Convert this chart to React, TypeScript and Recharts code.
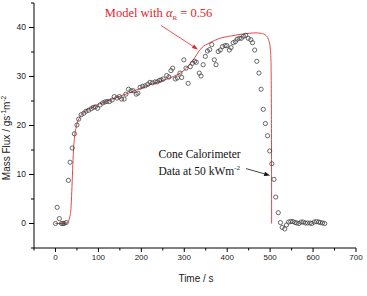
import {
  ComposedChart,
  Label,
  Line,
  ReferenceDot,
  ReferenceLine,
  Scatter,
  XAxis,
  YAxis,
} from "recharts";

// cone calorimeter measurements (time s, mass flux g/s/m2)
const TIME = [
  0, 4, 9, 14, 17, 20, 25, 30, 34, 39, 44, 50, 54, 60, 66, 71, 77, 83, 88, 93,
  98, 104, 110, 115, 120, 126, 132, 137, 143, 149, 154, 160, 164, 170, 176, 181,
  188, 192, 197, 203, 209, 215, 220, 226, 232, 237, 242, 246, 251, 259, 264, 269,
  273, 279, 284, 290, 294, 299, 304, 309, 314, 319, 324, 328, 335, 339, 344, 349,
  354, 359, 364, 370, 374, 379, 384, 389, 395, 399, 405, 409, 414, 419, 423, 428,
  433, 438, 443, 449, 455, 459, 464, 469, 474, 479, 484, 489, 494, 499, 504, 509,
  513, 519, 524, 528, 534, 538, 543, 548, 553, 558, 562, 567, 572, 577, 582, 587,
  593, 597, 603, 608, 613, 617, 622, 627,
];
const FLUX = [
  0, 3.3, 1.0, 0, 0, 0, 0.2, 8.8, 12.5, 15.4, 18.3, 20.1, 21.3, 22.2, 22.5, 22.9,
  23.1, 23.4, 23.7, 23.8, 23.5, 24.2, 24.6, 24.8, 24.9, 24.9, 25.2, 25.9, 25.6,
  25.9, 25.4, 25.4, 26.4, 27.4, 27.1, 27.1, 26.4, 26.6, 27.8, 28.0, 28.1, 28.4,
  28.8, 28.7, 28.9, 28.9, 29.2, 29.3, 29.5, 30.2, 29.9, 31.2, 31.7, 29.5, 29.7,
  30.7, 29.8, 33.4, 31.7, 28.6, 32.0, 32.7, 33.1, 32.9, 30.7, 30.1, 32.4, 34.1,
  35.2, 35.5, 36.5, 33.4, 32.4, 35.1, 35.4, 36.1, 36.3, 36.3, 35.4, 35.9, 36.9,
  37.1, 37.6, 37.8, 37.8, 38.2, 38.4, 37.8, 37.5, 36.9, 35.4, 33.1, 30.7, 27.4,
  23.3, 20.4, 17.9, 14.8, 12.2, 9.0, 5.4, 2.2, 0.2, -0.8, -1.1, -0.3, 0.3, 0.4,
  0.4, 0.2, 0.1, 0, 0.3, 0.3, 0.1, 0.1, 0.1, 0, 0.3, 0.4, 0.3, 0.2, 0.1, 0,
];

// model curve, alpha_R = 0.56
const MODEL_T = [
  0, 20, 28, 33, 36, 38, 40, 42, 45, 50, 56, 65, 80, 100, 130, 170, 210, 250,
  275, 300, 320, 340, 360, 380, 410, 440, 465, 480, 490, 496, 500, 502, 503, 503.5,
];
const MODEL_V = [
  0, 0, 0.2, 1.2, 3, 6.5, 11, 15, 18, 20.3, 21.6, 22.6, 23.5, 24.3, 25.3, 26.6,
  28.0, 29.2, 30.0, 31.3, 33.3, 35.8, 36.9, 37.7, 38.3, 38.7, 38.9, 38.8, 38.4,
  37.6, 36.0, 33, 22, 0,
];

const X_TICKS = [-50, 0, 50, 100, 150, 200, 250, 300, 350, 400, 450, 500, 550, 600, 650, 700];
const Y_TICKS = [-5, 0, 5, 10, 15, 20, 25, 30, 35, 40, 45];

const measured = TIME.map((t, i) => ({ t, v: FLUX[i] }));
const model = MODEL_T.map((t, i) => ({ t, v: MODEL_V[i] }));

const SANS = "'Liberation Sans', Arial, sans-serif";
const SERIF = "'Liberation Serif', 'Times New Roman', serif";
const RED = "#e3262d";

const XTick = ({ x, y, payload }: any) => {
  const v = payload.value;
  const major = v % 100 === 0;
  const y0 = y - 6;
  return (
    <g>
      <line x1={x} x2={x} y1={y0} y2={y0 + (major ? 4 : 2.5)} stroke="#000" />
      {major && v >= 0 && (
        <text x={x} y={y0 + 6} dy="0.71em" textAnchor="middle" fontFamily={SANS} fontSize={8} fill="#222">
          {v}
        </text>
      )}
    </g>
  );
};

const YTick = ({ x, y, payload }: any) => {
  const v = payload.value;
  const major = v % 10 === 0;
  const x0 = x + 8;
  return (
    <g>
      <line x1={x0 - (major ? 5 : 3)} x2={x0} y1={y} y2={y} stroke="#000" />
      {major && v >= 0 && v <= 40 && (
        <text x={x0 - 8} y={y} dy="0.35em" textAnchor="end" fontFamily={SANS} fontSize={8.5} fill="#222">
          {v}
        </text>
      )}
    </g>
  );
};

const Arrow = (color: string) => (p: any) => {
  const { x1, y1, x2, y2 } = p;
  const a = Math.atan2(y2 - y1, x2 - x1);
  const L = 6;
  const W = 2.2;
  const bx = x2 - L * Math.cos(a);
  const by = y2 - L * Math.sin(a);
  const px = -Math.sin(a) * W;
  const py = Math.cos(a) * W;
  return (
    <g>
      <line x1={x1} y1={y1} x2={bx} y2={by} stroke={color} strokeWidth={0.8} />
      <polygon points={`${x2},${y2} ${bx + px},${by + py} ${bx - px},${by - py}`} fill={color} />
    </g>
  );
};

const ModelText = (p: any) => (
  <text x={p.cx} y={p.cy} fill={RED} fontFamily={SERIF} fontSize={12.5}>
    Model with{" "}
    <tspan fontStyle="italic">α</tspan>
    <tspan fontSize={7} dy={3}>R</tspan>
    <tspan dy={-3}> = 0.56</tspan>
  </text>
);

const ConeText1 = (p: any) => (
  <text x={p.cx} y={p.cy} fill="#111" fontFamily={SERIF} fontSize={11.5}>
    Cone Calorimeter
  </text>
);

const ConeText2 = (p: any) => (
  <text x={p.cx} y={p.cy} fill="#111" fontFamily={SERIF} fontSize={11.5}>
    Data at 50 kWm
    <tspan fontSize={7} dy={-5}>-2</tspan>
  </text>
);

const XLabel = ({ viewBox }: any) => (
  <text x={viewBox.x + viewBox.width / 2 + 1} y={viewBox.y + 33.5} textAnchor="middle" fontFamily={SANS} fontSize={10} fill="#222">
    Time / s
  </text>
);

const YLabel = ({ viewBox }: any) => (
  <text
    transform={`translate(${viewBox.x + 9.5},${viewBox.y + 135}) rotate(-90)`}
    textAnchor="middle"
    fontFamily={SANS}
    fontSize={10}
    fill="#222"
  >
    Mass Flux / gs
    <tspan fontSize={6.5} dy={-4}>-1</tspan>
    <tspan dy={4}>m</tspan>
    <tspan fontSize={6.5} dy={-4}>-2</tspan>
  </text>
);

export default function App() {
  return (
    <div style={{ position: "absolute", left: 0, top: 0, background: "#fff" }}>
      <ComposedChart width={367} height={296} margin={{ top: 3, right: 11, left: 0, bottom: 0 }}>
        <XAxis
          dataKey="t"
          type="number"
          domain={[-50, 700]}
          ticks={X_TICKS}
          interval={0}
          height={48}
          tickSize={4}
          tickMargin={2}
          tickLine={false}
          tick={<XTick />}
          axisLine={{ stroke: "#000" }}
          allowDataOverflow
        >
          <Label content={<XLabel />} />
        </XAxis>
        <YAxis
          dataKey="v"
          type="number"
          domain={[-5, 45]}
          ticks={Y_TICKS}
          interval={0}
          width={34}
          tickSize={5}
          tickMargin={3}
          tickLine={false}
          tick={<YTick />}
          axisLine={{ stroke: "#000" }}
          allowDataOverflow
        >
          <Label content={<YLabel />} />
        </YAxis>
        <Scatter
          data={measured}
          isAnimationActive={false}
          shape={(p: any) => <circle cx={p.cx} cy={p.cy} r={2.1} fill="none" stroke="#3a3a3a" strokeWidth={0.75} />}
        />
        <Line
          data={model}
          dataKey="v"
          type="monotone"
          stroke="#e2474d"
          strokeWidth={1}
          dot={false}
          activeDot={false}
          isAnimationActive={false}
        />
        <ReferenceLine segment={[{ x: 246, y: 40.4 }, { x: 332, y: 35.5 }]} shape={Arrow(RED)} />
        <ReferenceLine segment={[{ x: 444, y: 11.2 }, { x: 500, y: 9.8 }]} shape={Arrow("#111")} />
        <ReferenceDot x={115} y={42.1} shape={ModelText} />
        <ReferenceDot x={240} y={13.3} shape={ConeText1} />
        <ReferenceDot x={240} y={9.9} shape={ConeText2} />
      </ComposedChart>
    </div>
  );
}
